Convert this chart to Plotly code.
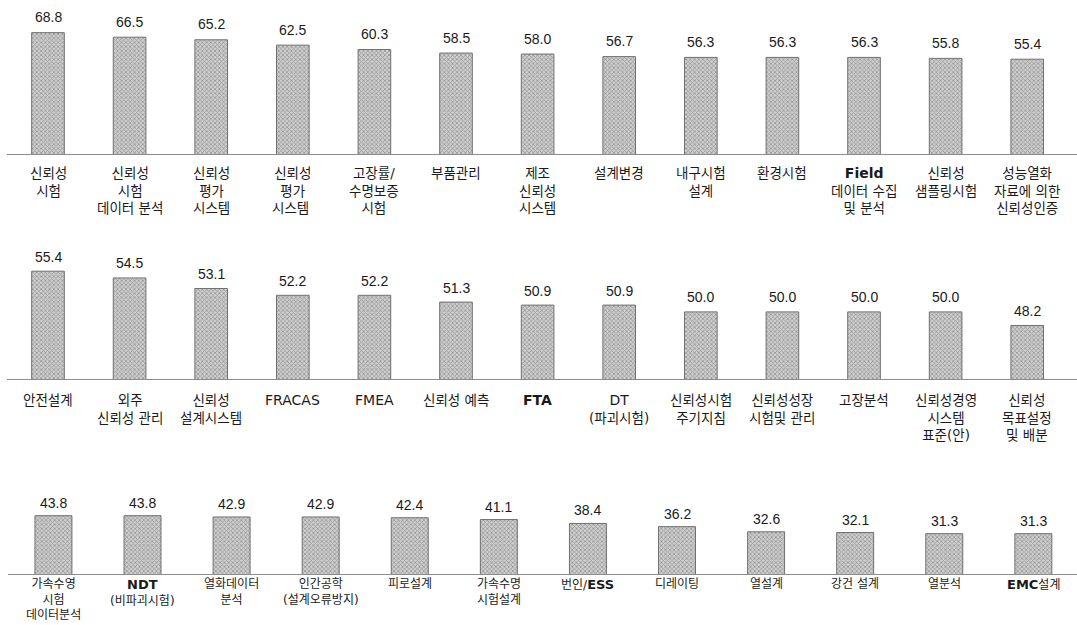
import plotly.graph_objects as go

LAT = '<span style="font-family:DejaVu Sans;font-size:14px">{}</span>'
LATB = '<span style="font-family:DejaVu Sans;font-size:14px;font-weight:bold">{}</span>'
LATB3 = '<span style="font-family:DejaVu Sans;font-size:13px;font-weight:bold">{}</span>'

# Row 1
cats1 = ["신뢰성<br>시험", "신뢰성<br>시험<br>데이터 분석", "신뢰성<br>평가<br>시스템", "신뢰성<br>평가<br>시스템 ",
         "고장률/<br>수명보증<br>시험", "부품관리", "제조<br>신뢰성<br>시스템", "설계변경", "내구시험<br>설계",
         "환경시험", LATB.format("Field") + "<br>데이터 수집<br>및 분석", "신뢰성<br>샘플링시험",
         "성능열화<br>자료에 의한<br>신뢰성인증"]
vals1 = [68.8, 66.5, 65.2, 62.5, 60.3, 58.5, 58.0, 56.7, 56.3, 56.3, 56.3, 55.8, 55.4]

# Row 2
cats2 = ["안전설계", "외주<br>신뢰성 관리", "신뢰성<br>설계시스템", LAT.format("FRACAS"), LAT.format("FMEA"),
         "신뢰성 예측", LATB.format("FTA"), LAT.format("DT") + "<br>(파괴시험)", "신뢰성시험<br>주기지침",
         "신뢰성성장<br>시험및 관리", "고장분석", "신뢰성경영<br>시스템<br>표준(안)", "신뢰성<br>목표설정<br>및 배분"]
vals2 = [55.4, 54.5, 53.1, 52.2, 52.2, 51.3, 50.9, 50.9, 50.0, 50.0, 50.0, 50.0, 48.2]

# Row 3
cats3 = ["가속수영<br>시험<br>데이터분석", LATB3.format("NDT") + "<br>(비파괴시험)", "열화데이터<br>분석",
         "인간공학<br>(설계오류방지)", "피로설계", "가속수명<br>시험설계", "번인/" + LATB3.format("ESS"), "디레이팅",
         "열설계", "강건 설계", "열분석", LATB3.format("EMC") + "설계"]
vals3 = [43.8, 43.8, 42.9, 42.9, 42.4, 41.1, 38.4, 36.2, 32.6, 32.1, 31.3, 31.3]

W, H = 1077, 625
rows = [
    # cats, vals, x range, x domain, y domain, y range, label shift, value shift, bar gap, label size
    dict(c=cats1, v=vals1, xr=[-0.5, 12.61], xd=[7.2 / W, 1], yd=[1 - 154 / H, 1.0], yr=[7.5, 85.3],
         ls=-9.5, vs=5.5, gap=0.6, fs=13.5),
    dict(c=cats2, v=vals2, xr=[-0.5, 12.61], xd=[7.2 / W, 1], yd=[1 - 379 / H, 1 - 200 / H], yr=[41.1, 64.84],
         ls=-10.5, vs=4.5, gap=0.6, fs=13.5),
    dict(c=cats3, v=vals3, xr=[-0.51, 11.49], xd=[8 / W, 1], yd=[1 - 574 / H, 1 - 465 / H], yr=[3.3, 79.0],
         ls=-1, vs=3.0, gap=0.585, fs=12),
]

fig = go.Figure()
value_font = dict(family="Liberation Sans, Arial", size=14, color="#1a1a1a")

for i, r in enumerate(rows, start=1):
    xa = "x" if i == 1 else f"x{i}"
    ya = "y" if i == 1 else f"y{i}"
    fig.add_trace(go.Bar(
        x=r["c"], y=r["v"], xaxis=xa, yaxis=ya,
        marker=dict(
            color="#b4b4b4",
            line=dict(color="#707070", width=1),
            pattern=dict(shape="x", size=3, solidity=0.45, fgcolor="#5a5a5a", bgcolor="#cfcfcf"),
        ),
        width=1 - r["gap"],
        showlegend=False, hoverinfo="skip",
    ))
    sfx = "" if i == 1 else str(i)
    fig.update_layout(**{
        f"xaxis{sfx}": dict(domain=r["xd"], range=r["xr"], type="category", anchor=ya,
                            showticklabels=False, showgrid=False, zeroline=False,
                            showline=True, linecolor="#8c8c8c", linewidth=1.2, ticks=""),
        f"yaxis{sfx}": dict(domain=r["yd"], range=r["yr"], anchor=xa, visible=False,
                            showgrid=False, zeroline=False),
    })
    label_font = dict(family="DejaVu Sans, Noto Sans CJK KR", size=r["fs"], color="#1a1a1a")
    for c, v in zip(r["c"], r["v"]):
        fig.add_annotation(x=c, y=v, xref=xa, yref=ya, text=f"{v:.1f}", showarrow=False,
                           yanchor="bottom", yshift=r["vs"], font=value_font)
        fig.add_annotation(x=c, y=0, xref=xa, yref=f"{ya} domain", text=c, showarrow=False,
                           yanchor="top", yshift=r["ls"], font=label_font, align="center")

fig.update_layout(
    width=W, height=H, margin=dict(l=0, r=0, t=0, b=0),
    plot_bgcolor="white", paper_bgcolor="white",
)

fig.write_html("out.html")
